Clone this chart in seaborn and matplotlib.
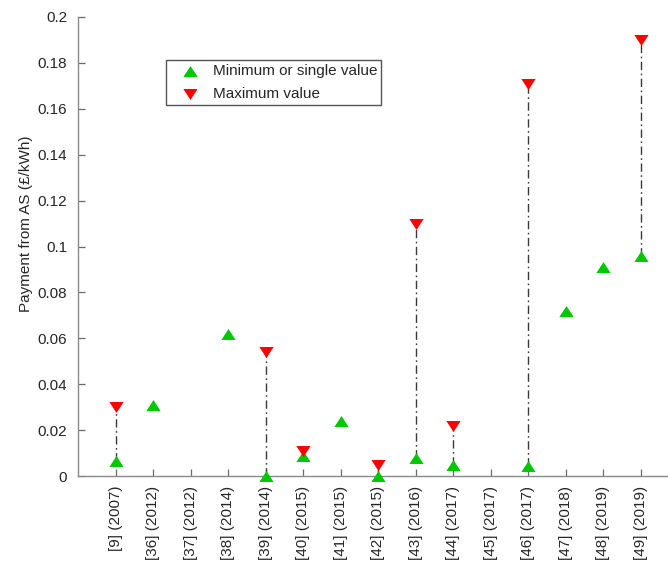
import numpy as np
import pandas as pd
import matplotlib
matplotlib.use("Agg")
import matplotlib.pyplot as plt
import seaborn as sns

# ---- data ----
refs = ["[9] (2007)", "[36] (2012)", "[37] (2012)", "[38] (2014)", "[39] (2014)",
        "[40] (2015)", "[41] (2015)", "[42] (2015)", "[43] (2016)", "[44] (2017)",
        "[45] (2017)", "[46] (2017)", "[47] (2018)", "[48] (2019)", "[49] (2019)"]
min_vals = [0.0067, 0.031, np.nan, 0.062, 0.0, 0.0085, 0.024, 0.0, 0.008, 0.005,
            np.nan, 0.0045, 0.072, 0.091, 0.096]
max_vals = [0.030, np.nan, np.nan, np.nan, 0.054, 0.011, np.nan, 0.005, 0.110, 0.022,
            np.nan, 0.171, np.nan, np.nan, 0.190]
y_ticks = [0, 0.02, 0.04, 0.06, 0.08, 0.1, 0.12, 0.14, 0.16, 0.18, 0.2]
legend_labels = ["Minimum or single value", "Maximum value"]
y_label = "Payment from AS (\u00a3/kWh)"

sns.set_theme(style="white")
plt.rcParams["font.family"] = ["Liberation Sans", "DejaVu Sans"]

df = pd.DataFrame({"pos": np.arange(len(refs)), "ref": refs,
                   "min": min_vals, "max": max_vals})

fig = plt.figure(figsize=(6.68, 5.63), dpi=100)
W, H = 668, 563
x0, x1 = 78.2, 678.2
y0, y1 = 476, 17
ax = fig.add_axes([x0 / W, (H - y0) / H, (x1 - x0) / W, (y0 - y1) / H])

up = [(0, 0.77), (-1, -0.77), (1, -0.77)]
down = [(0, -0.77), (-1, 0.77), (1, 0.77)]

both = df.dropna(subset=["min", "max"])
ax.vlines(both["pos"], both["min"], both["max"], colors="#3a3a3a",
          linestyles=(0, (6, 2.5, 1.2, 2.5)), linewidth=1.0, zorder=1)

green = "#00c800"
red = "#ff0000"
sns.scatterplot(data=df, x="pos", y="min", marker=up, color=green, s=105,
                linewidth=0, ax=ax, label=legend_labels[0], zorder=3)
sns.scatterplot(data=df, x="pos", y="max", marker=down, color=red, s=105,
                linewidth=0, ax=ax, label=legend_labels[1], zorder=3)
for c in ax.collections:
    c.set_clip_on(False)

ax.set_xlim(-1, len(refs))
ax.set_ylim(0, 0.2)
ax.set_xticks(df["pos"])
ax.set_xticklabels(refs, rotation=90)
ax.set_yticks(y_ticks)
ax.set_yticklabels([f"{t:g}" for t in y_ticks])
ax.set_xlabel("")
ax.set_ylabel(y_label, fontsize=11, color="#262626")
ax.yaxis.set_label_coords((33 - x0) / (x1 - x0), (y0 - 224) / (y0 - y1))

for s in ["top", "right"]:
    ax.spines[s].set_visible(False)
for s in ["left", "bottom"]:
    ax.spines[s].set_color("#8a8a8a")
    ax.spines[s].set_linewidth(1.0)
ax.tick_params(axis="both", which="major", bottom=True, left=True,
               direction="in", length=5, width=0.9, color="#6a6a6a",
               labelsize=11, labelcolor="#262626")
ax.tick_params(axis="x", pad=7)
ax.tick_params(axis="y", pad=8)

leg = ax.legend(loc="upper left", bbox_to_anchor=(166 / W, 1 - 60 / H),
                bbox_transform=fig.transFigure, borderaxespad=0, fontsize=11,
                frameon=True, fancybox=False, framealpha=1, edgecolor="#555555",
                handlelength=2.64, handletextpad=0.18, borderpad=0.25,
                labelspacing=0.62, markerscale=1.0)
leg.get_frame().set_linewidth(1.0)
for t in leg.get_texts():
    t.set_color("#262626")

fig.savefig("out.png", dpi=100)
